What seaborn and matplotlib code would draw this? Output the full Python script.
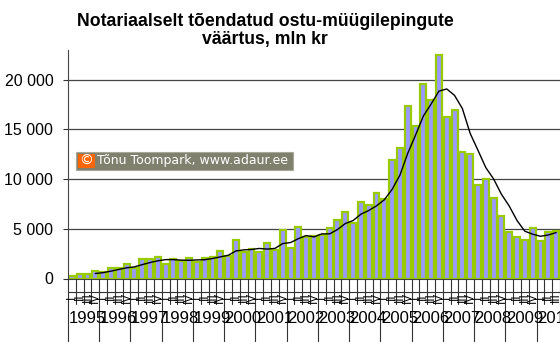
import numpy as np
import pandas as pd
import matplotlib
matplotlib.use("Agg")
import matplotlib.pyplot as plt
import matplotlib.transforms as mtransforms
from matplotlib.patches import Rectangle
from matplotlib.lines import Line2D
from matplotlib.ticker import FuncFormatter
import seaborn as sns

# ---------------- data ----------------
years = list(range(1995, 2011))
quarter_names = ["I", "II", "III", "IV"]
# quarterly values, 1995 Q1 ... 2010 Q3 (mln kr)
values = [290, 490, 420, 790, 660, 1090, 1090, 1460,
          1030, 2000, 1930, 2170, 1500, 2000, 1730, 2100,
          1660, 2070, 2200, 2770, 2270, 3850, 2620, 2930,
          2700, 3600, 2900, 4880, 3110, 5160, 4150, 4320,
          4350, 5130, 5900, 6740, 5540, 7690, 7380, 8620,
          8000, 11880, 13120, 17340, 15390, 19550, 18010, 22490,
          16270, 16960, 12700, 12490, 9430, 10010, 8150, 6340,
          4660, 4150, 3890, 5130, 3820, 4690, 4830]
# moving-average trend line (starts at 1995 Q4)
trend = [500, 590, 740, 910, 1075, 1170, 1395, 1605,
         1780, 1900, 1900, 1850, 1830, 1870, 1890, 2010,
         2175, 2330, 2770, 2880, 2920, 3025, 2960, 3030,
         3520, 3620, 4010, 4325, 4185, 4495, 4490, 4925,
         5530, 5830, 6470, 6840, 7310, 7920, 8970, 10400,
         12590, 14430, 16350, 17570, 18860, 19080, 18430, 17100,
         14600, 12900, 11160, 10020, 8480, 7290, 5830, 4760,
         4460, 4250, 4380, 4620]
title = "Notariaalselt tõendatud ostu-müügilepingute\nväärtus, mln kr"
credit = "Tõnu Toompark, www.adaur.ee"

n = len(values)
df = pd.DataFrame({"q": list(range(n)), "v": values})
tr = pd.DataFrame({"q": list(range(n - len(trend), n)), "v": trend})

# ---------------- style ----------------
sns.set_theme(style="white")
plt.rcParams["font.family"] = ["Liberation Sans", "DejaVu Sans"]

W, H = 560, 342
fig = plt.figure(figsize=(W / 100, H / 100), dpi=100)
fig.patch.set_facecolor("white")

def fx(px):
    return px / W

def fy(py):
    return 1 - py / H

ax_left, ax_right, ax_top, ax_bottom = 68, 560, 50, 278.5
ax = fig.add_axes([fx(ax_left), fy(ax_bottom), fx(ax_right - ax_left), (ax_bottom - ax_top) / H])
ax.set_facecolor("white")

sns.barplot(data=df, x="q", y="v", color="#9999FF", saturation=1,
            edgecolor="#99CC00", linewidth=1.6, width=0.76, ax=ax, zorder=2)
sns.lineplot(data=tr, x="q", y="v", color="black", linewidth=1.0, ax=ax, zorder=3)

ax.set_xlim(-0.5, n - 0.5)
ax.set_ylim(0, 23000)
ax.set_yticks([0, 5000, 10000, 15000, 20000])
ax.yaxis.set_major_formatter(FuncFormatter(lambda v, p: f"{int(v):,}".replace(",", " ")))
ax.set_xticks([])
ax.set_xlabel("")
ax.set_ylabel("")
ax.grid(axis="y", color="#444444", linewidth=0.9, zorder=0)
ax.set_axisbelow(True)
ax.tick_params(axis="y", left=True, length=3.6, width=0.8, color="#333333",
               pad=7, labelsize=11.5, labelcolor="black", direction="out")
for s in ["top", "right"]:
    ax.spines[s].set_visible(False)
ax.spines["left"].set_color("#444444")
ax.spines["left"].set_linewidth(0.8)
ax.spines["bottom"].set_color("#444444")
ax.spines["bottom"].set_linewidth(0.8)

# ---------------- category axis (quarters / years) ----------------
bt = mtransforms.blended_transform_factory(ax.transData, fig.transFigure)
for k in range(n + 1):
    x = k - 0.5
    if k % 4 == 0:
        fig.add_artist(Line2D([x, x], [fy(278.5), fy(342)], transform=bt,
                              color="#333333", linewidth=0.8, clip_on=False))
    else:
        fig.add_artist(Line2D([x, x], [fy(278.5), fy(304)], transform=bt,
                              color="#333333", linewidth=0.8, clip_on=False))
fig.add_artist(Line2D([-0.5, n - 0.5], [fy(291.7), fy(291.7)], transform=bt,
                      color="#333333", linewidth=0.8, clip_on=False))
for i in range(n):
    fig.text(i, fy(297), quarter_names[i % 4], transform=bt, rotation=90,
             ha="center", va="center", fontsize=8.5, color="black")
for j, yv in enumerate(years):
    fig.text(4 * j - 0.5 + 0.05, fy(318.5), str(yv), transform=bt,
             ha="left", va="center", fontsize=12, color="black")

# ---------------- title ----------------
fig.text(fx(265), fy(30.5), title, ha="center", va="center", fontsize=12.7,
         fontweight="bold", color="black", linespacing=1.05)

# ---------------- credit box ----------------
fig.add_artist(Rectangle((fx(76), fy(169.5)), fx(217), 17.5 / H, transform=fig.transFigure,
                         facecolor="#80806f", edgecolor="#a8a89a", linewidth=0.8, zorder=5))
fig.add_artist(Rectangle((fx(77.5), fy(168)), fx(17.5), 14.5 / H, transform=fig.transFigure,
                         facecolor="#FF6600", edgecolor="none", zorder=6))
fig.text(fx(86.3), fy(160.8), "©", ha="center", va="center", fontsize=10,
         color="white", family=["DejaVu Sans"], zorder=7)
fig.text(fx(97), fy(160.8), credit, ha="left", va="center", fontsize=9,
         color="white", family=["DejaVu Sans"], zorder=7)

fig.savefig("out.png", dpi=100)
